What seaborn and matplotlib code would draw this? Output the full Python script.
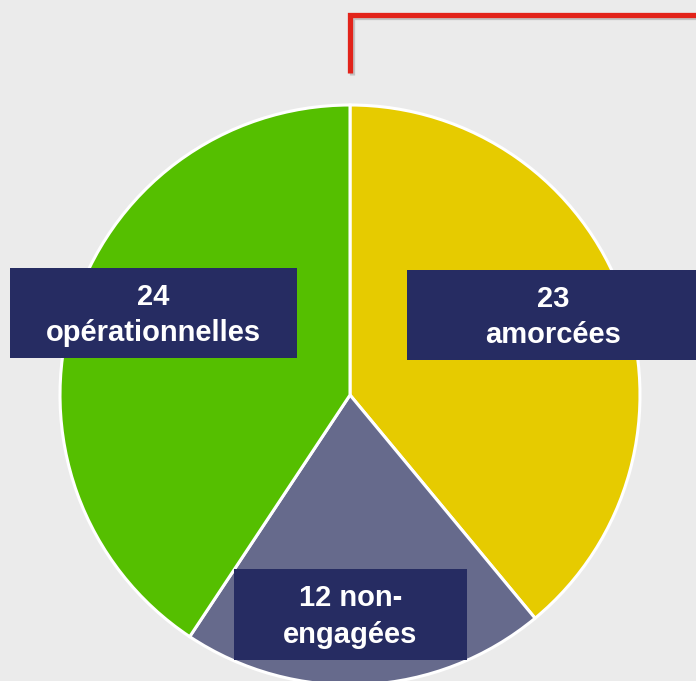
import matplotlib.pyplot as plt
import matplotlib.patches as mpatches
import seaborn as sns

# Données
categories = ["amorcées", "non-engagées", "opérationnelles"]
valeurs = [23, 12, 24]
etiquettes = ["23\namorcées", "12 non-\nengagées", "24\nopérationnelles"]
couleurs = ["#e6cb00", "#666a8c", "#55bf00"]

sns.set_theme(style="white")
plt.rcParams["font.family"] = ["Liberation Sans", "DejaVu Sans"]

W, H = 696, 681
fig = plt.figure(figsize=(W / 100, H / 100), dpi=100, facecolor="#ebebeb")
ax = fig.add_axes([0, 0, 1, 1])
ax.set_facecolor("#ebebeb")

# Camembert (sens horaire depuis le haut)
ax.pie(valeurs, colors=couleurs, startangle=90, counterclock=False,
       center=(350, H - 395), radius=290, frame=True,
       wedgeprops=dict(edgecolor="white", linewidth=2.2))
ax.set_xlim(0, W)
ax.set_ylim(0, H)
ax.set_aspect("equal")
ax.axis("off")

# Trait rouge avec ombre
xs = [350, 350, 700]
ys = [H - 73, H - 15, H - 15]
ax.plot([x + 2 for x in xs], [y - 2 for y in ys], color="#9a9a9a", lw=3.8,
        alpha=0.5, solid_joinstyle="miter", solid_capstyle="butt", zorder=4)
ax.plot(xs, ys, color="#e2231a", lw=3.8, solid_joinstyle="miter",
        solid_capstyle="butt", zorder=5)

# Étiquettes encadrées
boites = {
    "amorcées": (407, 270, 295, 90),
    "non-engagées": (234, 569, 233, 91),
    "opérationnelles": (10, 268, 287, 90),
}
for cat, lab in zip(categories, etiquettes):
    x0, y0, w, h = boites[cat]
    ax.add_patch(mpatches.Rectangle((x0, H - y0 - h), w, h, facecolor="#262c62",
                                    edgecolor="none", zorder=6))
    cx = x0 + w / 2 if cat != "amorcées" else 553
    ax.text(cx, H - y0 - h / 2 - 2, lab, ha="center", va="center", color="white",
            fontsize=21, fontweight="bold", linespacing=1.38, zorder=7)

plt.savefig("out.png", dpi=100, facecolor=fig.get_facecolor())
